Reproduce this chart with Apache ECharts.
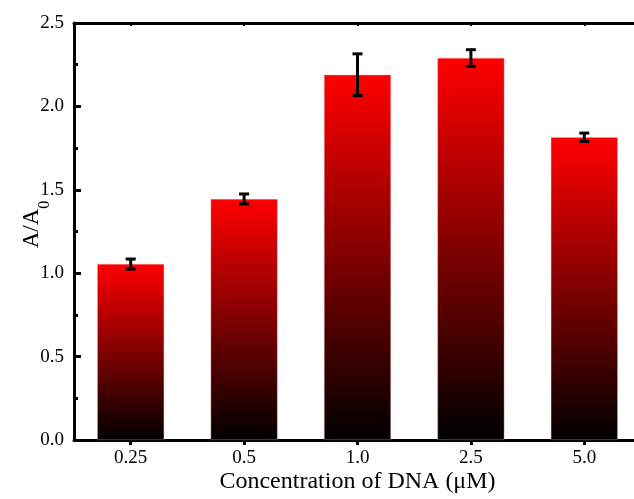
<!DOCTYPE html>
<html>
<head>
<meta charset="utf-8">
<script src="https://cdn.jsdelivr.net/npm/echarts@6/dist/echarts.min.js"></script>
<style>
  html, body { margin: 0; padding: 0; background: #fff; }
  #main { width: 634px; height: 499px; }
</style>
</head>
<body>
<div id="main"></div>
<script>
// data
var categories = ['0.25', '0.5', '1.0', '2.5', '5.0'];
var ratio = [1.055, 1.445, 2.19, 2.29, 1.815];
var errors = [0.03, 0.03, 0.125, 0.05, 0.025];
var yTicks = ['0.0', '0.5', '1.0', '1.5', '2.0', '2.5'];

var font = 'Liberation Serif';
var chart = echarts.init(document.getElementById('main'));

var barColor = new echarts.graphic.LinearGradient(0, 0, 0, 1, [
  { offset: 0, color: '#ff0000' },
  { offset: 1, color: '#000000' }
]);

chart.setOption({
  animation: false,
  grid: { left: 74, top: 23, width: 567, height: 417, containLabel: false, outerBoundsMode: 'none' },
  xAxis: [
    {
      type: 'category',
      data: categories,
      position: 'bottom',
      axisLine: { lineStyle: { color: '#000', width: 3 } },
      axisTick: { show: true, alignWithLabel: true, inside: false, length: 5, lineStyle: { color: '#000', width: 3 } },
      axisLabel: { color: '#000', fontFamily: font, fontSize: 19, margin: 9 },
      name: 'Concentration of DNA (\u03bcM)',
      nameLocation: 'middle',
      nameGap: 30,
      nameMoveOverlap: false,
      nameTextStyle: { color: '#000', fontFamily: font, fontSize: 24 }
    },
    {
      type: 'category',
      data: categories,
      position: 'top',
      axisLine: { onZero: false, lineStyle: { color: '#000', width: 3 } },
      axisTick: { show: true, alignWithLabel: true, inside: true, length: 3, lineStyle: { color: '#000', width: 2 } },
      axisLabel: { show: false }
    }
  ],
  yAxis: [
    {
      type: 'value',
      min: 0,
      max: 2.5,
      interval: 0.5,
      position: 'left',
      axisLine: { show: true, onZero: false, lineStyle: { color: '#000', width: 3 } },
      axisTick: { show: true, inside: true, length: 7, lineStyle: { color: '#000', width: 3 } },
      splitLine: { show: false },
      axisLabel: {
        color: '#000', fontFamily: font, fontSize: 19, margin: 10,
        formatter: function (v) { return yTicks[Math.round(v / 0.5)]; }
      },
      name: '{a|A/A}{s|0}',
      nameLocation: 'middle',
      nameGap: 30,
      nameRotate: 90,
      nameMoveOverlap: false,
      nameTextStyle: {
        color: '#000',
        rich: {
          a: { fontFamily: font, fontSize: 23, lineHeight: 24, verticalAlign: 'top', color: '#000', padding: [0, 0, 0, 14] },
          s: { fontFamily: font, fontSize: 16, lineHeight: 17, verticalAlign: 'top', color: '#000', padding: [17, 0, 0, 0] }
        }
      }
    },
    {
      // minor ticks every 0.25, drawn on the same left edge
      type: 'value',
      min: 0,
      max: 2.5,
      interval: 0.25,
      position: 'left',
      offset: 0,
      axisLine: { show: false, onZero: false },
      axisTick: { show: true, inside: true, length: 4, lineStyle: { color: '#000', width: 3 } },
      splitLine: { show: false },
      axisLabel: { show: false }
    }
  ],
  series: [
    {
      type: 'bar',
      data: ratio,
      barWidth: 67,
      itemStyle: { color: barColor, borderColor: 'rgba(255,160,160,0.6)', borderWidth: 0.6 },
      z: 2
    },
    {
      type: 'custom',
      data: ratio.map(function (v, i) { return [i, v, errors[i]]; }),
      z: 5,
      renderItem: function (params, api) {
        var i = api.value(0);
        var v = api.value(1);
        var e = api.value(2);
        var hi = api.coord([i, v + e]);
        var lo = api.coord([i, v - e]);
        var hw = 5;
        var st = { stroke: '#000', lineWidth: 3 };
        return {
          type: 'group',
          children: [
            { type: 'line', shape: { x1: hi[0], y1: hi[1], x2: lo[0], y2: lo[1] }, style: st },
            { type: 'line', shape: { x1: hi[0] - hw, y1: hi[1], x2: hi[0] + hw, y2: hi[1] }, style: st },
            { type: 'line', shape: { x1: lo[0] - hw, y1: lo[1], x2: lo[0] + hw, y2: lo[1] }, style: st }
          ]
        };
      }
    }
  ]
});
</script>
</body>
</html>
